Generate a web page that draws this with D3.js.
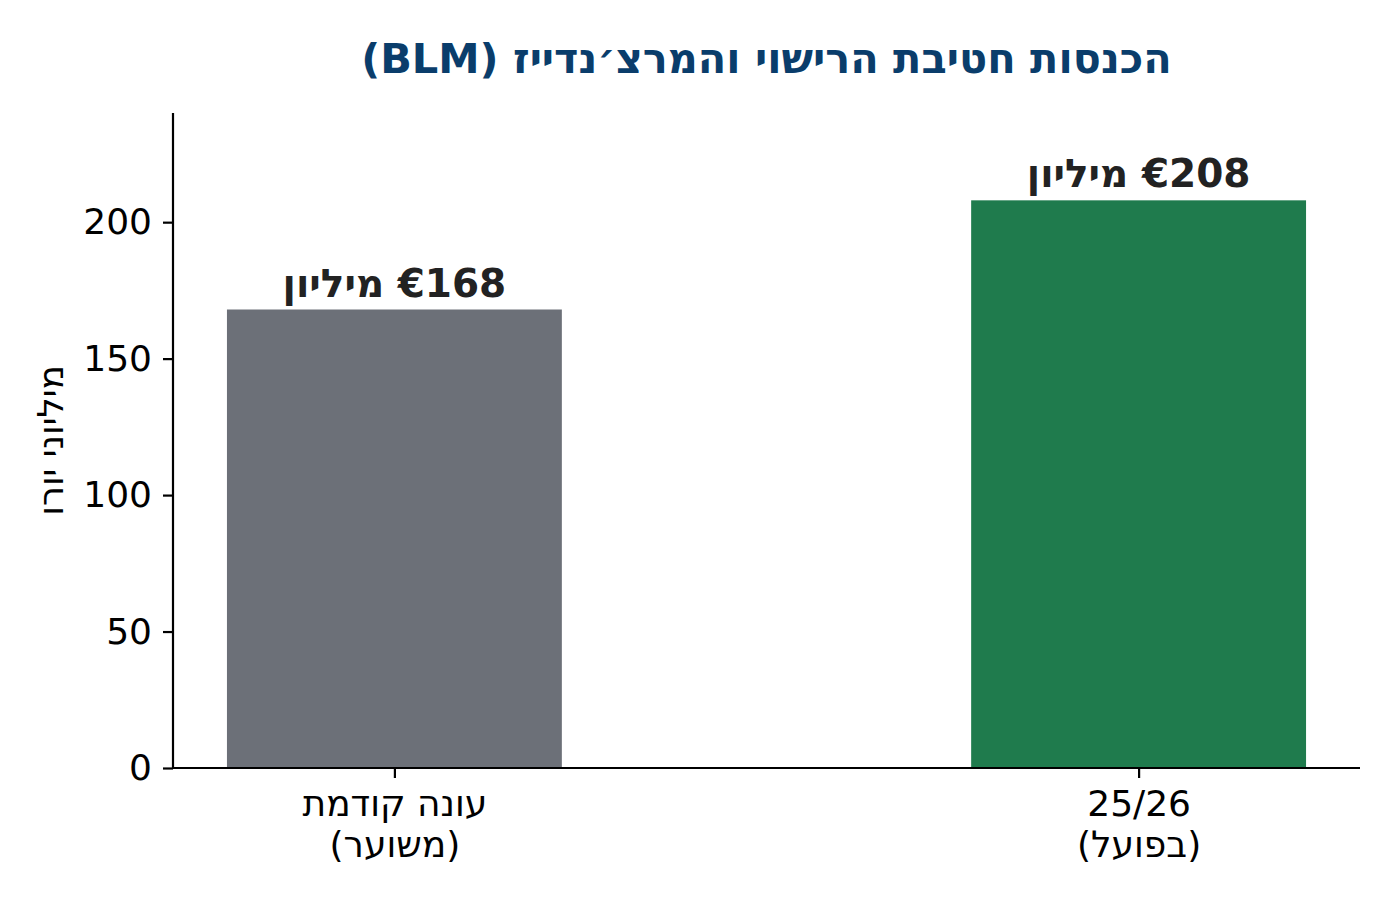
<!DOCTYPE html>
<html>
<head>
<meta charset="utf-8">
<script src="https://cdn.jsdelivr.net/npm/d3@7"></script>
<style>
  html, body { margin: 0; padding: 0; background: #ffffff; }
  svg { display: block; }
</style>
</head>
<body>
<svg id="chart" width="1400" height="900"></svg>
<script>
// ---- data ----
const categories = [["עונה קודמת", "(משוער)"], ["25/26", "(בפועל)"]];
const values = [168, 208];
const barLabels = ["€168 מיליון", "€208 מיליון"];
const barColors = ["#6c7078", "#1f7b4d"];
const yTicks = [0, 50, 100, 150, 200];
const titleText = "(BLM) הכנסות חטיבת הרישוי והמרצ׳נדייז";
const yLabelText = "מיליוני יורו";

// ---- layout ----
const W = 1400, H = 900;
const plot = { left: 173, right: 1360, top: 113, bottom: 768 };
const font = "'DejaVu Sans', sans-serif";
const svg = d3.select("#chart");

const x = d3.scaleLinear().domain([-0.2975, 1.2975]).range([plot.left, plot.right]);
const y = d3.scaleLinear().domain([0, 240]).range([plot.bottom, plot.top]);
const barWidth = 0.45;

// bars
svg.append("g").selectAll("rect")
  .data(values)
  .join("rect")
  .attr("x", (d, i) => x(i - barWidth / 2))
  .attr("width", (d, i) => x(i + barWidth / 2) - x(i - barWidth / 2))
  .attr("y", d => y(d))
  .attr("height", d => y(0) - y(d))
  .attr("fill", (d, i) => barColors[i]);

// bar value labels
svg.append("g").selectAll("text")
  .data(values)
  .join("text")
  .attr("x", (d, i) => x(i))
  .attr("y", d => y(d) - 13)
  .attr("text-anchor", "middle")
  .attr("direction", "rtl")
  .attr("font-family", font)
  .attr("font-weight", "bold")
  .attr("font-size", 39)
  .attr("fill", "#222222")
  .text((d, i) => barLabels[i]);

// y axis
const yAxis = d3.axisLeft(y).tickValues(yTicks).tickSize(10).tickPadding(11).tickFormat(d3.format("d"));
const gy = svg.append("g").attr("transform", `translate(${plot.left},0)`).call(yAxis);
gy.select(".domain").attr("stroke", "#000").attr("stroke-width", 2.2).attr("d", `M0,${plot.top}V${plot.bottom}`);
gy.selectAll(".tick line").attr("stroke", "#000").attr("stroke-width", 2.2);
gy.selectAll(".tick text").attr("font-family", font).attr("font-size", 36).attr("fill", "#000");

// x axis
const xAxis = d3.axisBottom(x).tickValues([0, 1]).tickSize(10).tickFormat(() => "");
const gx = svg.append("g").attr("transform", `translate(0,${plot.bottom})`).call(xAxis);
gx.select(".domain").attr("stroke", "#000").attr("stroke-width", 2.2).attr("d", `M${plot.left},0H${plot.right}`);
gx.selectAll(".tick line").attr("stroke", "#000").attr("stroke-width", 2.2);
gx.selectAll(".tick text").remove();
gx.selectAll(".tick").each(function(d) {
  const t = d3.select(this).append("text")
    .attr("text-anchor", "middle")
    .attr("font-family", font)
    .attr("font-size", 36)
    .attr("fill", "#000");
  categories[d].forEach((line, k) => {
    t.append("tspan").attr("x", 0).attr("y", 48 + k * 41).text(line);
  });
});

// title
svg.append("text")
  .attr("x", (plot.left + plot.right) / 2)
  .attr("y", 73)
  .attr("text-anchor", "middle")
  .attr("font-family", font)
  .attr("font-weight", "bold")
  .attr("font-size", 41.5)
  .attr("fill", "#0a3d6b")
  .text(titleText);

// y label
svg.append("text")
  .attr("transform", `translate(63,${(plot.top + plot.bottom) / 2}) rotate(-90)`)
  .attr("text-anchor", "middle")
  .attr("font-family", font)
  .attr("font-size", 35.5)
  .attr("fill", "#000")
  .text(yLabelText);
</script>
</body>
</html>
